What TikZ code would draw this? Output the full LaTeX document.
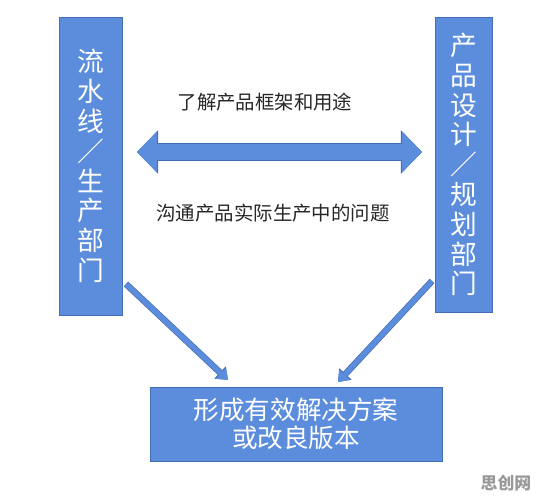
\documentclass[tikz,border=0pt]{standalone}
\usepackage{fontspec}
\setmainfont{Noto Sans CJK SC}
\usetikzlibrary{arrows.meta}
\definecolor{boxblue}{RGB}{91,141,220}
\definecolor{edgeblue}{RGB}{66,110,182}
\tikzset{
>=Stealth,
dept node/.style={rectangle,draw=edgeblue,fill=boxblue,text=white,align=center,inner sep=0pt,
  font=\fontsize{19}{21.2}\selectfont},
result node/.style={rectangle,draw=edgeblue,fill=boxblue,text=white,align=center,inner sep=0pt,
  font=\fontsize{18.2}{19.9}\selectfont},
note node/.style={font=\fontsize{13.8}{16}\selectfont,text=black!85},
freccia larga/.style={line width=11.4pt,boxblue,
  {Triangle[length=14.2pt,width=29.2pt,line width=0pt]}-{Triangle[length=14.2pt,width=29.2pt,line width=0pt]},
  preaction={draw=edgeblue,line width=12.6pt,
  {Triangle[length=15pt,width=31pt,line width=0pt]}-{Triangle[length=15pt,width=31pt,line width=0pt]}}},
freccia/.style={line width=3.6pt,boxblue,-{Triangle[length=7pt,width=10.7pt,line width=0pt]},
  preaction={draw=edgeblue,line width=4.6pt,-{Triangle[length=7.8pt,width=12pt,line width=0pt]}}}}

\begin{document}
\begin{tikzpicture}[x=0.025cm,y=-0.025cm]
\useasboundingbox (0,0) rectangle (546,497);

\node[dept node,minimum width=1.575cm,minimum height=7.45cm] (prod) at (90.5,166)
  {流\\水\\线\\／\\生\\产\\部\\门};
\node[dept node,minimum width=1.425cm,minimum height=7.375cm] (design) at (463.5,164.5)
  {产\\品\\设\\计\\／\\规\\划\\部\\门};
\node[result node,minimum width=7.3cm,minimum height=1.85cm] (result) at (296,424)
  {形成有效解决方案\\或改良版本};

\node[note node] (learn) at (265,102) {了解产品框架和用途};
\node[note node] (talk) at (273,213) {沟通产品实际生产中的问题};

\coordinate (a1) at (137,152);
\coordinate (a2) at (422,152);
\coordinate (s1) at (126,284);
\coordinate (t1) at (228,380);
\coordinate (s2) at (432,281);
\coordinate (t2) at (338,382);

\draw[freccia larga] (a1) -- (a2);
\draw[freccia] (s1) -- (t1);
\draw[freccia] (s2) -- (t2);

\node[font=\bfseries\fontsize{12}{14}\selectfont,text=black!40] (mark) at (506,483) {思创网};

\end{tikzpicture}
\end{document}
